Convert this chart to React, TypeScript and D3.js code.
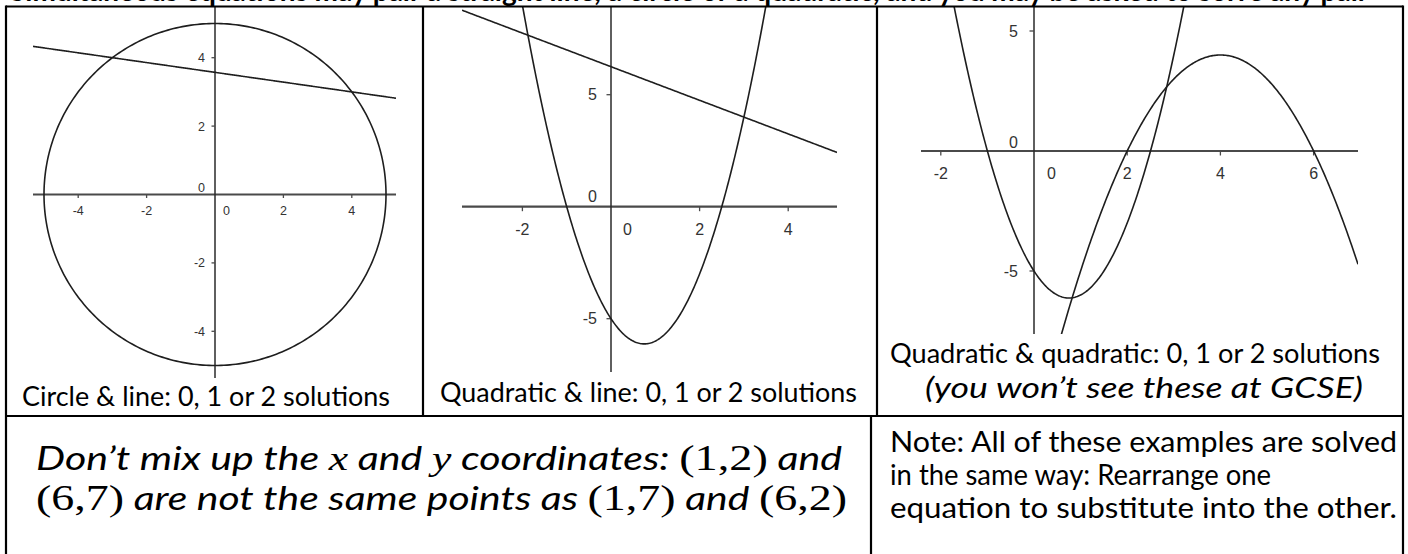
import React from 'react';
import * as d3 from 'd3';

const W = 1408;
const H = 554;

// Circle x² + y² = r² and the line y = m·x + c
const circleRadius = [5];
const chordLine = [-1 / 7, 25 / 7];
// Quadratics y = a·x² + b·x + c
const quadUp = [2, -3, -5];
const quadDown = [-1, 8, -12];
// Line y = m·x + c crossing the upward quadratic
const secantLine = [-0.75, 6.25];

const circleXTicks = [-4, -2, 2, 4];
const circleYTicks = [4, 2, -2, -4];
const quadLineXTicks = [-2, 2, 4];
const quadLineYTicks = [5, -5];
const quadQuadXTicks = [-2, 2, 4, 6];
const quadQuadYTicks = [5, -5];

const captionCircle = 'Circle & line: 0, 1 or 2 solutions';
const captionQuadLine = 'Quadratic & line: 0, 1 or 2 solutions';
const captionQuadQuad = 'Quadratic & quadratic: 0, 1 or 2 solutions';
const captionGcse = '(you won’t see these at GCSE)';
const noteLines = [
  'Note: All of these examples are solved',
  'in the same way: Rearrange one',
  'equation to substitute into the other.',
];
const headingText =
  'Simultaneous equations may pair a straight line, a circle or a quadratic, and you may be asked to solve any pair';

type Curve = { kind: 'line' | 'quad' | 'circle'; coef: number[] };

type PanelSpec = {
  id: string;
  origin: [number, number];
  unit: [number, number];
  xSpan: [number, number];
  ySpan: [number, number];
  xTicks: number[];
  yTicks: number[];
  font: number;
  tick: number;
  xLabelDy: number;
  yLabelDx: number;
  zeroDx: number;
  zeroDy: number;
  curves: Curve[];
};

const panels: PanelSpec[] = [
  {
    id: 'p1',
    origin: [215, 194.5],
    unit: [34.2, 34.2],
    xSpan: [33, 396],
    ySpan: [7, 378],
    xTicks: circleXTicks,
    yTicks: circleYTicks,
    font: 12.5,
    tick: 3.5,
    xLabelDy: 20,
    yLabelDx: 10,
    zeroDx: 11.5,
    zeroDy: 3,
    curves: [
      { kind: 'circle', coef: circleRadius },
      { kind: 'line', coef: chordLine },
    ],
  },
  {
    id: 'p2',
    origin: [611, 206.7],
    unit: [44.3, 22.4],
    xSpan: [462, 837],
    ySpan: [7, 372],
    xTicks: quadLineXTicks,
    yTicks: quadLineYTicks,
    font: 16,
    tick: 4.5,
    xLabelDy: 28,
    yLabelDx: 14,
    zeroDx: 16.5,
    zeroDy: 5,
    curves: [
      { kind: 'quad', coef: quadUp },
      { kind: 'line', coef: secantLine },
    ],
  },
  {
    id: 'p3',
    origin: [1034, 151],
    unit: [46.6, 24],
    xSpan: [921, 1358],
    ySpan: [7, 334],
    xTicks: quadQuadXTicks,
    yTicks: quadQuadYTicks,
    font: 16,
    tick: 4.5,
    xLabelDy: 28,
    yLabelDx: 16,
    zeroDx: 17.5,
    zeroDy: 3,
    curves: [
      { kind: 'quad', coef: quadUp },
      { kind: 'quad', coef: quadDown },
    ],
  },
];

const axisFont = '"Liberation Sans", Arial, sans-serif';
const bodyFont = 'Lato, "Open Sans", sans-serif';
const mathFont = '"Liberation Serif", "DejaVu Serif", serif';

function curvePath(c: Curve, x: d3.ScaleLinear<number, number>, y: d3.ScaleLinear<number, number>, span: [number, number]) {
  const line = d3
    .line<[number, number]>()
    .x((d) => x(d[0]))
    .y((d) => y(d[1]));
  if (c.kind === 'circle') {
    const r = c.coef[0];
    const pts = d3.range(0, 361).map((deg) => {
      const t = (deg * Math.PI) / 180;
      return [r * Math.cos(t), r * Math.sin(t)] as [number, number];
    });
    return line(pts) || '';
  }
  const x0 = x.invert(span[0]);
  const x1 = x.invert(span[1]);
  const xs = d3.range(0, 401).map((i) => x0 + ((x1 - x0) * i) / 400);
  const f =
    c.kind === 'line'
      ? (v: number) => c.coef[0] * v + c.coef[1]
      : (v: number) => c.coef[0] * v * v + c.coef[1] * v + c.coef[2];
  return line(xs.map((v) => [v, f(v)] as [number, number])) || '';
}

function Panel({ p }: { p: PanelSpec }) {
  const [ox, oy] = p.origin;
  const x = d3.scaleLinear().domain([0, 1]).range([ox, ox + p.unit[0]]);
  const y = d3.scaleLinear().domain([0, 1]).range([oy, oy - p.unit[1]]);
  const fmt = (v: number) => String(v);
  return (
    <g>
      <defs>
        <clipPath id={`clip-${p.id}`}>
          <rect x={p.xSpan[0]} y={p.ySpan[0]} width={p.xSpan[1] - p.xSpan[0]} height={p.ySpan[1] - p.ySpan[0]} />
        </clipPath>
      </defs>
      {/* axes */}
      <line x1={p.xSpan[0]} x2={p.xSpan[1]} y1={y(0)} y2={y(0)} stroke="#4a4a4a" strokeWidth={2.2} />
      <line x1={x(0)} x2={x(0)} y1={p.ySpan[0]} y2={p.ySpan[1]} stroke="#2a2a2a" strokeWidth={1.5} />
      {p.xTicks.map((t) => (
        <g key={`xt${t}`}>
          <line x1={x(t)} x2={x(t)} y1={y(0)} y2={y(0) + p.tick} stroke="#4a4a4a" strokeWidth={1.3} />
          <text x={x(t)} y={y(0) + p.xLabelDy} textAnchor="middle" fontFamily={axisFont} fontSize={p.font} fill="#333">
            {fmt(t)}
          </text>
        </g>
      ))}
      {p.yTicks.map((t) => (
        <g key={`yt${t}`}>
          <line x1={x(0) - p.tick} x2={x(0)} y1={y(t)} y2={y(t)} stroke="#4a4a4a" strokeWidth={1.3} />
          <text
            x={x(0) - p.yLabelDx}
            y={y(t) + p.font * 0.36}
            textAnchor="end"
            fontFamily={axisFont}
            fontSize={p.font}
            fill="#333"
          >
            {fmt(t)}
          </text>
        </g>
      ))}
      <text x={x(0) + p.zeroDx} y={y(0) + p.xLabelDy} textAnchor="middle" fontFamily={axisFont} fontSize={p.font} fill="#333">
        0
      </text>
      <text x={x(0) - p.yLabelDx} y={y(0) - p.zeroDy} textAnchor="end" fontFamily={axisFont} fontSize={p.font} fill="#333">
        0
      </text>
      <g clipPath={`url(#clip-${p.id})`}>
        {p.curves.map((c, i) => (
          <path key={i} d={curvePath(c, x, y, p.xSpan)} fill="none" stroke="#1e1e1e" strokeWidth={1.6} />
        ))}
      </g>
    </g>
  );
}

export default function App() {
  const border = { stroke: '#000', strokeWidth: 2.2 };
  return (
    <div style={{ position: 'absolute', left: 0, top: 0 }}>
      <svg width={W} height={H} viewBox={`0 0 ${W} ${H}`} style={{ display: 'block', background: '#fff' }}>
        <rect x={0} y={0} width={W} height={H} fill="#fff" />
        {/* heading line running off the top edge */}
        <text x={10} y={0.5} fontFamily={bodyFont} fontWeight={700} fontSize={28} fill="#000">
          {headingText}
        </text>

        {panels.map((p) => (
          <Panel key={p.id} p={p} />
        ))}

        {/* table rules */}
        <line x1={6} x2={1403} y1={6.5} y2={6.5} {...border} />
        <line x1={6} x2={6} y1={5.5} y2={H} {...border} />
        <line x1={1403} x2={1403} y1={5.5} y2={H} {...border} />
        <line x1={423} x2={423} y1={6} y2={416} {...border} />
        <line x1={877} x2={877} y1={6} y2={416} {...border} />
        <line x1={6} x2={1403} y1={416} y2={416} {...border} />
        <line x1={871} x2={871} y1={416} y2={H} {...border} />

        {/* captions */}
        <text x={22} y={406} fontFamily={bodyFont} fontSize={26} textLength={368} lengthAdjust="spacingAndGlyphs">
          {captionCircle}
        </text>
        <text x={440} y={402} fontFamily={bodyFont} fontSize={26} textLength={417} lengthAdjust="spacingAndGlyphs">
          {captionQuadLine}
        </text>
        <text x={890} y={363} fontFamily={bodyFont} fontSize={26} textLength={490} lengthAdjust="spacingAndGlyphs">
          {captionQuadQuad}
        </text>
        <text x={925} y={398} fontFamily={bodyFont} fontStyle="italic" fontSize={29} textLength={438} lengthAdjust="spacingAndGlyphs">
          {captionGcse}
        </text>

        {/* bottom-left reminder */}
        <text x={36} y={470} fontFamily={bodyFont} fontStyle="italic" fontSize={32} textLength={806} lengthAdjust="spacingAndGlyphs">
          <tspan>Don’t mix up the </tspan>
          <tspan fontFamily={mathFont} fontSize={34}>x</tspan>
          <tspan> and </tspan>
          <tspan fontFamily={mathFont} fontSize={34}>y</tspan>
          <tspan> coordinates: </tspan>
          <tspan fontFamily={mathFont} fontStyle="normal" fontSize={36}>(1,2)</tspan>
          <tspan> and</tspan>
        </text>
        <text x={36} y={510} fontFamily={bodyFont} fontStyle="italic" fontSize={32} textLength={811} lengthAdjust="spacingAndGlyphs">
          <tspan fontFamily={mathFont} fontStyle="normal" fontSize={36}>(6,7)</tspan>
          <tspan> are not the same points as </tspan>
          <tspan fontFamily={mathFont} fontStyle="normal" fontSize={36}>(1,7)</tspan>
          <tspan> and </tspan>
          <tspan fontFamily={mathFont} fontStyle="normal" fontSize={36}>(6,2)</tspan>
        </text>

        {/* note */}
        {noteLines.map((t, i) => (
          <text
            key={i}
            x={890}
            y={452 + i * 33}
            fontFamily={bodyFont}
            fontSize={29}
            textLength={[507, 381, 507][i]}
            lengthAdjust="spacingAndGlyphs"
          >
            {t}
          </text>
        ))}
      </svg>
    </div>
  );
}
